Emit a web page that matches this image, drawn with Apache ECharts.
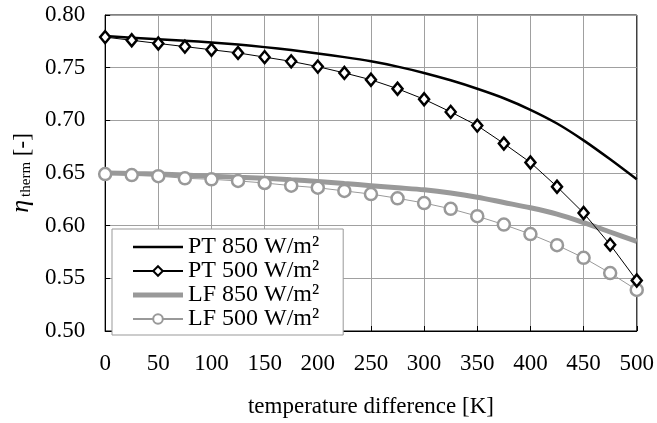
<!DOCTYPE html>
<html>
<head>
<meta charset="utf-8">
<script src="https://cdn.jsdelivr.net/npm/echarts@6/dist/echarts.min.js"></script>
<style>
  html, body { margin: 0; padding: 0; background: #fff; }
  #chart { width: 657px; height: 423px; }
</style>
</head>
<body>
<div id="chart"></div>
<script>
// temperature difference [K]
const tempDiff = [0, 25, 50, 75, 100, 125, 150, 175, 200, 225, 250, 275, 300, 325, 350, 375, 400, 425, 450, 475, 500]

const pt850 = [0.780, 0.7785, 0.777, 0.7755, 0.774, 0.772, 0.7695, 0.7667, 0.7635, 0.760, 0.756, 0.751, 0.745, 0.738, 0.730, 0.721, 0.710, 0.697, 0.681, 0.663, 0.644]
const pt500 = [0.779, 0.776, 0.773, 0.770, 0.767, 0.764, 0.760, 0.756, 0.751, 0.745, 0.7385, 0.730, 0.720, 0.708, 0.695, 0.678, 0.660, 0.637, 0.612, 0.582, 0.548]
const lf850 = [0.650, 0.6495, 0.649, 0.648, 0.647, 0.646, 0.645, 0.6435, 0.642, 0.640, 0.638, 0.636, 0.634, 0.631, 0.627, 0.622, 0.617, 0.611, 0.603, 0.594, 0.585]
const lf500 = [0.649, 0.648, 0.647, 0.645, 0.644, 0.6425, 0.6405, 0.638, 0.636, 0.633, 0.630, 0.626, 0.6215, 0.616, 0.609, 0.601, 0.592, 0.5815, 0.5695, 0.555, 0.539]

const seriesNames = ['PT 850 W/m²', 'PT 500 W/m²', 'LF 850 W/m²', 'LF 500 W/m²']

const font = 'Liberation Serif'
const fs = 23
const pair = arr => tempDiff.map((x, i) => [x, arr[i]])

const chart = echarts.init(document.getElementById('chart'))
chart.setOption({
  animation: false,
  textStyle: { fontFamily: font, color: '#000' },
  grid: {
    left: 103,
    right: 19,
    top: 15,
    bottom: 84,
    show: true,
    borderColor: '#000',
    borderWidth: 1
  },
  legend: {
    orient: 'vertical',
    left: 112,
    top: 229,
    padding: [6, 24, 4, 20],
    itemGap: 0,
    itemWidth: 50,
    itemHeight: 12,
    backgroundColor: '#fff',
    borderColor: '#999',
    borderWidth: 1,
    textStyle: { fontFamily: font, fontSize: 24, lineHeight: 22.8, color: '#000' },
    data: [
      // solid lines without markers
      { name: seriesNames[0], icon: 'path://M0,0H50V2.5H0Z' },
      { name: seriesNames[1] },
      { name: seriesNames[2], icon: 'path://M0,0H50V5H0Z' },
      { name: seriesNames[3] }
    ]
  },
  xAxis: {
    type: 'value',
    min: 0,
    max: 500,
    interval: 50,
    name: 'temperature difference [K]',
    nameLocation: 'middle',
    nameGap: 64,
    nameTextStyle: { fontFamily: font, fontSize: fs, color: '#000' },
    axisLine: { lineStyle: { color: '#000', width: 1 } },
    axisTick: { inside: true, length: 5, lineStyle: { color: '#000' } },
    axisLabel: { fontFamily: font, fontSize: fs, color: '#000', margin: 21 },
    splitLine: { lineStyle: { color: '#a0a0a0', width: 1 } }
  },
  yAxis: {
    type: 'value',
    min: 0.5,
    max: 0.8,
    interval: 0.05,
    name: '{eta|η}{sub|therm}{n| [-]}',
    nameLocation: 'middle',
    nameRotate: 90,
    nameGap: 70,
    nameTextStyle: {
      rich: {
        eta: { fontFamily: font, fontSize: 26, fontStyle: 'italic', color: '#000', verticalAlign: 'bottom' },
        sub: { fontFamily: font, fontSize: 15, color: '#000', verticalAlign: 'bottom', padding: [0, 0, 0, 3] },
        n: { fontFamily: font, fontSize: fs, color: '#000', verticalAlign: 'bottom' }
      }
    },
    axisLine: { show: true, lineStyle: { color: '#000', width: 1 } },
    axisTick: { show: true, inside: true, length: 5, lineStyle: { color: '#000' } },
    axisLabel: {
      fontFamily: font,
      fontSize: fs,
      color: '#000',
      margin: 20,
      formatter: v => v.toFixed(2)
    },
    splitLine: { lineStyle: { color: '#a0a0a0', width: 1 } }
  },
  series: [
    {
      name: seriesNames[0],
      type: 'line',
      data: pair(pt850),
      smooth: 0.3,
      symbol: 'none',
      lineStyle: { color: '#000', width: 2.5 },
      itemStyle: { color: '#000' },
      z: 3
    },
    {
      name: seriesNames[1],
      type: 'line',
      data: pair(pt500),
      symbol: 'diamond',
      symbolSize: [10, 12],
      lineStyle: { color: '#000', width: 1 },
      itemStyle: { color: '#fff', borderColor: '#000', borderWidth: 2.5 },
      z: 4
    },
    {
      name: seriesNames[2],
      type: 'line',
      data: pair(lf850),
      smooth: 0.3,
      symbol: 'none',
      lineStyle: { color: '#999', width: 5 },
      itemStyle: { color: '#999' },
      z: 2
    },
    {
      name: seriesNames[3],
      type: 'line',
      data: pair(lf500),
      symbol: 'circle',
      symbolSize: 12,
      lineStyle: { color: '#999', width: 1 },
      itemStyle: { color: '#fff', borderColor: '#999', borderWidth: 2.5 },
      z: 3
    }
  ]
})
</script>
</body>
</html>
